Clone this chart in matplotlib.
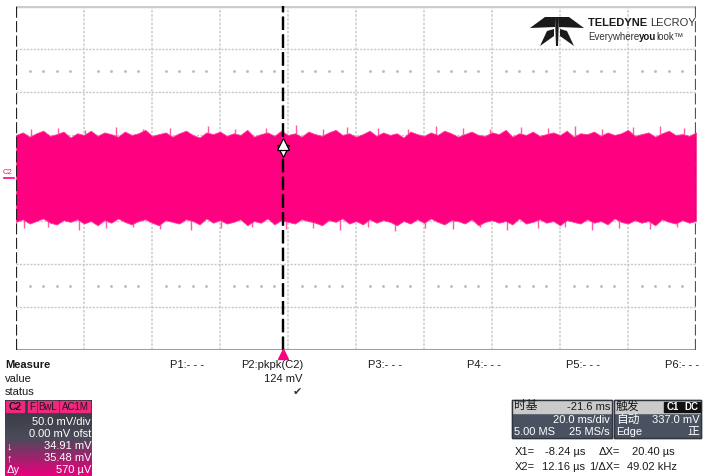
import numpy as np
import matplotlib.pyplot as plt
from matplotlib.patches import Rectangle, Polygon
from matplotlib.colors import LinearSegmentedColormap

plt.rcParams['font.family'] = ['Liberation Sans', 'Noto Sans CJK SC', 'DejaVu Sans']

# scope settings
t_div = 20.0          # ms/div
v_div = 50.0          # mV/div
t_left = -78.4        # ms at left edge (delay -21.6 ms)
cursor_x = [-8.24e-3, 12.16e-3]     # ms
cursor_y = [34.91, 35.48]           # mV

# C2 noise envelope, one value every 2 ms (mV)
upper_mv = [50, 53, 48, 52, 55, 49, 51, 54, 47, 52,
            50, 55, 49, 53, 51, 48, 54, 50, 52, 56,
            49, 51, 53, 48, 52, 55, 50, 47, 53, 51,
            54, 49, 52, 50, 56, 48, 51, 53, 49, 55,
            50, 52, 48, 54, 51, 49, 53, 56, 50, 52,
            48, 51, 55, 49, 53, 50, 52, 47, 54, 51,
            49, 53, 50, 55, 52, 48, 51, 54, 50, 49,
            53, 51, 56, 48, 52, 50, 54, 49, 51, 53,
            50, 55, 48, 52, 51, 54, 49, 53, 50, 52,
            56, 49, 51, 53, 48, 52, 55, 50, 51, 49, 53]
lower_mv = [-51, -48, -53, -50, -47, -52, -54, -49, -51, -48,
            -53, -50, -55, -49, -52, -47, -51, -54, -50, -48,
            -52, -55, -49, -51, -53, -48, -50, -54, -47, -52,
            -49, -53, -51, -48, -55, -50, -52, -47, -54, -49,
            -51, -53, -48, -50, -52, -55, -49, -51, -47, -53,
            -50, -54, -48, -52, -49, -51, -55, -50, -53, -48,
            -52, -47, -51, -54, -49, -50, -53, -48, -55, -51,
            -49, -52, -50, -54, -47, -53, -51, -48, -52, -50,
            -55, -49, -51, -53, -48, -52, -50, -54, -47, -51,
            -53, -49, -52, -50, -55, -48, -51, -53, -49, -52, -50]

# isolated noise peaks (ms, mV)
spike_top_t = [-74, -66, -58, -49, -41, -33, -22, -14, -5, 4, 12, 19,
               28, 37, 45, 53, 61, 70, 78, 86, 94, 103, 111, 118]
spike_top_mv = [57, 58, 56, 59, 57, 58, 60, 57, 58, 62, 57, 59,
                58, 57, 60, 58, 57, 59, 58, 60, 57, 59, 61, 58]
spike_bot_t = [-76, -69, -60, -52, -44, -36, -27, -18, -9, 1, 9, 17,
               25, 33, 42, 50, 58, 66, 75, 83, 91, 99, 108, 116]
spike_bot_mv = [-58, -57, -60, -58, -57, -59, -61, -58, -57, -59, -58, -60,
                -57, -62, -58, -59, -57, -60, -58, -57, -61, -58, -59, -57]

pink = '#ff0080'
W, H = 709, 476
fig = plt.figure(figsize=(W / 100, H / 100), dpi=100)

# ---- waveform grid ----
ax = fig.add_axes([16 / W, 1 - 350 / H, 680 / W, 344 / H])
t_right = t_left + 10 * t_div
ax.set_xlim(t_left, t_right)
ax.set_ylim(-4 * v_div, 4 * v_div)
ax.set_xticks([]); ax.set_yticks([])
for s in ax.spines.values():
    s.set_visible(False)

for k in range(1, 10):
    ax.axvline(t_left + k * t_div, color='#d0d0d0', lw=1.2, ls=(0, (1.5, 1)), zorder=1)
for k in range(-3, 4):
    ax.axhline(k * v_div, color='#c8c8c8', lw=1.0, ls=(0, (1.5, 1)), zorder=1)
# minor division dots
dots_t = [t_left + (d + m / 5) * t_div for d in range(10) for m in range(1, 5)]
for yv in (2.5 * v_div, -2.5 * v_div):
    ax.plot(dots_t, [yv] * len(dots_t), ls='none', marker='s', ms=0.9,
            color='#b8b8b8', zorder=1)

# borders
ax.axhline(4 * v_div, color='#cccccc', lw=2.5, zorder=2)
ax.axhline(-4 * v_div, color='#a0a0a0', lw=1.5, zorder=2)
ax.axvline(t_left, color='#222222', lw=1.6, ls=(0, (5, 1.5)), zorder=5)
ax.axvline(t_right, color='#555555', lw=1.6, ls=(0, (5, 1.5)), zorder=5)

# ---- C2 trace ----
t_env = np.linspace(t_left, t_right, len(upper_mv))
ax.vlines(spike_top_t, 45, spike_top_mv, color='#ff5aa8', lw=1.0, zorder=2)
ax.vlines(spike_bot_t, spike_bot_mv, -45, color='#ff5aa8', lw=1.0, zorder=2)
ax.fill_between(t_env, lower_mv, upper_mv, color=pink, lw=0.6, edgecolor='#ff3d9a', zorder=3)

# cursors
for cx in cursor_x:
    ax.axvline(cx, color='black', lw=1.6, ls=(0, (6, 2)), zorder=6)
ax.plot([cursor_x[0]], [cursor_y[0] - 3], marker='v', ms=9, mfc='white', mec='black', mew=0.9, zorder=7)
ax.plot([cursor_x[1]], [cursor_y[1] + 4], marker='^', ms=9, mfc='white', mec='black', mew=0.9, zorder=7)

# trigger marker
ax.plot([0], [-4 * v_div - 5], marker='^', ms=7, color=pink, clip_on=False, zorder=8)

# ---- overlay in pixel coordinates ----
ov = fig.add_axes([0, 0, 1, 1])
ov.set_xlim(0, W); ov.set_ylim(H, 0)
ov.axis('off')
ov.patch.set_visible(False)

def txt(x, y, s, **kw):
    kw.setdefault('fontsize', 8)
    kw.setdefault('color', '#1a1a1a')
    kw.setdefault('va', 'center')
    return ov.text(x, y, s, **kw)

def run(x, y, pieces):
    # lay out text pieces one after the other
    renderer = fig.canvas.get_renderer()
    for s, kw in pieces:
        t = txt(x, y, s, **kw)
        bb = t.get_window_extent(renderer)
        x = ov.transData.inverted().transform((bb.x1, bb.y0))[0]

# channel marker
txt(3, 172, 'C2', color=pink, fontsize=5.5)
ov.plot([4, 14], [177.5, 177.5], color=pink, lw=1.2)

# logo
logo = [[(530, 28), (545, 17), (555, 17), (555, 27)],
        [(584, 28), (569, 17), (559, 17), (559, 27)],
        [(555, 17), (559, 17), (558, 46), (556, 46)],
        [(554, 29), (554, 36), (540, 46), (547, 31)],
        [(560, 29), (560, 36), (574, 46), (567, 31)]]
for p in logo:
    ov.add_patch(Polygon(p, closed=True, color='#1a1a1a', lw=0))
run(588, 23, [('TELEDYNE ', dict(fontsize=8.0, fontweight='bold')),
              ('LECROY', dict(fontsize=8.0, color='#333333'))])
run(588, 37, [('Everywhere', dict(fontsize=7.0, color='#333333')),
              ('you', dict(fontsize=7.0, fontweight='bold')),
              ('look\u2122', dict(fontsize=7.0, color='#333333'))])

# measurement table
txt(5, 365, 'Measure', fontweight='bold')
txt(5, 379, 'value')
txt(5, 392, 'status')
p_labels = ['P1:- - -', 'P2:pkpk(C2)', 'P3:- - -', 'P4:- - -', 'P5:- - -', 'P6:- - -']
p_x = [170, 241, 368, 467, 566, 665]
for x, s in zip(p_x, p_labels):
    txt(x, 365, s)
txt(302, 379, '124 mV', ha='right')
txt(297, 392, '\u2714', ha='center', fontsize=8, color='#333333')

# channel descriptor box
cmap = LinearSegmentedColormap.from_list('box', [(0, '#33363e'), (0.5, '#4b4b5a'), (1, '#e8007c')])
ov.imshow(np.linspace(0, 1, 80)[:, None], cmap=cmap, aspect='auto',
          extent=(5, 92, 476, 400), origin='upper', zorder=1)
ov.set_xlim(0, W); ov.set_ylim(H, 0)
tags = [(6, 24, 'C2'), (28, 36, 'F'), (38, 58, 'BwL'), (60, 90, 'AC1M')]
for x0, x1, s in tags:
    ov.add_patch(Rectangle((x0, 401), x1 - x0, 11, color='#f0287f', zorder=2))
    txt((x0 + x1) / 2, 406.5, s, ha='center', fontsize=7.5 if s == 'C2' else 7,
        fontweight='bold' if s == 'C2' else 'normal', zorder=3)
ch_rows = ['50.0 mV/div', '0.00 mV ofst', '34.91 mV', '35.48 mV', '570 \u00b5V']
ch_sym = ['', '', '\u2193', '\u2191', '\u0394y']
for i, (s, sym) in enumerate(zip(ch_rows, ch_sym)):
    y = 422 + 12 * i
    txt(91, y, s, ha='right', color='white', zorder=3)
    if sym:
        txt(7, y, sym, color='white', zorder=3)

# timebase / trigger boxes
for x0, x1 in [(512, 612), (614, 701)]:
    ov.add_patch(Rectangle((x0, 400), x1 - x0, 38, color='#4a5261', zorder=1))
    ov.add_patch(Rectangle((x0, 400), x1 - x0, 13, color='#cacaca', zorder=2))
    ov.add_patch(Rectangle((x0, 400), x1 - x0, 38, fill=False, ec='#30343c', lw=1, zorder=3))
txt(514, 406.5, '时基', fontsize=8.5, zorder=4)
txt(610, 406.5, '-21.6 ms', ha='right', zorder=4)
txt(610, 420, '20.0 ms/div', ha='right', color='white', zorder=4)
txt(514, 432, '5.00 MS', color='white', zorder=4)
txt(610, 432, '25 MS/s', ha='right', color='white', zorder=4)

txt(616, 406.5, '触发', fontsize=8.5, zorder=4)
for x0, x1, s in [(664, 682, 'C1'), (683, 700, 'DC')]:
    ov.add_patch(Rectangle((x0, 401.5), x1 - x0, 10, color='#111111', zorder=4))
    txt((x0 + x1) / 2, 406.5, s, ha='center', color='white', fontsize=7, fontweight='bold', zorder=5)
txt(616, 420, '自动', color='white', fontsize=8.5, zorder=4)
txt(699, 420, '337.0 mV', ha='right', color='white', zorder=4)
txt(616, 432, 'Edge', color='white', zorder=4)
txt(699, 432, '正', ha='right', color='white', fontsize=8.5, zorder=4)

# cursor readouts
txt(515, 452, 'X1=')
txt(585, 452, '-8.24 \u00b5s', ha='right')
txt(620, 452, '\u0394X=', ha='right')
txt(675, 452, '20.40 \u00b5s', ha='right')
txt(515, 467, 'X2=')
txt(585, 467, '12.16 \u00b5s', ha='right')
txt(620, 467, '1/\u0394X=', ha='right')
txt(677, 467, '49.02 kHz', ha='right')

fig.savefig('out.png', dpi=100)
